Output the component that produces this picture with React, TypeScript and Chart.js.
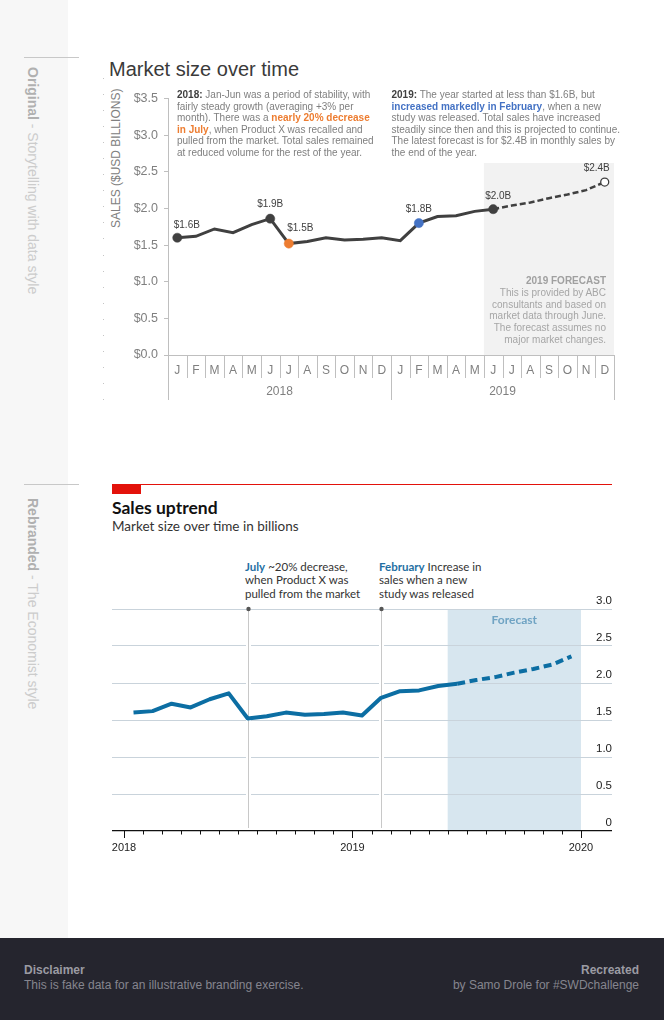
import React, { useEffect, useRef } from 'react';
import { Chart, registerables } from 'chart.js';

Chart.register(...registerables);

// ---------- DATA ----------
const MONTH_LABELS = ['J', 'F', 'M', 'A', 'M', 'J', 'J', 'A', 'S', 'O', 'N', 'D', 'J', 'F', 'M', 'A', 'M', 'J', 'J', 'A', 'S', 'O', 'N', 'D'];
const YEAR_LABELS = ['2018', '2019'];
// Jan 2018 .. Jun 2019 (actual, $ billions)
const ACTUAL_SALES = [1.60, 1.62, 1.72, 1.67, 1.78, 1.86, 1.52, 1.55, 1.60, 1.57, 1.58, 1.60, 1.56, 1.80, 1.89, 1.90, 1.96, 1.99];
// Jul 2019 .. Dec 2019 (forecast)
const FORECAST_SALES = [2.04, 2.08, 2.14, 2.19, 2.25, 2.36];
const TOP_Y_MIN = 0;
const TOP_Y_MAX = 3.5;
const TOP_Y_STEP = 0.5;
const BOTTOM_Y_MIN = 0;
const BOTTOM_Y_MAX = 3;
const BOTTOM_Y_STEP = 0.5;
const BOTTOM_YEAR_LABELS = ['2018', '2019', '2020'];
const BOTTOM_YEAR_TICKS = [0, 12, 24];
const ANNOTATED_MONTHS = [6, 13]; // July 2018, February 2019
const FORECAST_BAND_TOP = 2.62;

// ---------- STYLE ----------
const SANS = "'Liberation Sans', Arial, Helvetica, sans-serif";
const ECON = "Lato, 'Open Sans', sans-serif";
const DARK = '#404040';
const ORANGE = '#ED7D31';
const BLUE = '#4472C4';
const ECON_BLUE = '#0C6EA3';

const HIGHLIGHTS: Record<number, string> = { 0: DARK, 5: DARK, 6: ORANGE, 13: BLUE, 17: DARK };
const VALUE_LABELS = [
  { ds: 0, i: 0, dx: 9.5, dy: -12.5 },
  { ds: 0, i: 5, dx: 0, dy: -14.6 },
  { ds: 0, i: 6, dx: 11.5, dy: -15 },
  { ds: 0, i: 13, dx: 0, dy: -13.7 },
  { ds: 0, i: 17, dx: 5, dy: -13.4 },
  { ds: 1, i: 23, dx: -8, dy: -13.4 },
];

const topPlugin = {
  id: 'topDecor',
  beforeDraw(chart: any) {
    const { ctx, chartArea, scales } = chart;
    const x = scales.x, y = scales.y;
    const x0 = x.getPixelForValue(ACTUAL_SALES.length - 1.5);
    const x1 = x.getPixelForValue(MONTH_LABELS.length - 0.5);
    const yt = y.getPixelForValue(FORECAST_BAND_TOP);
    ctx.save();
    ctx.fillStyle = '#f2f2f2';
    ctx.fillRect(x0, yt, x1 - x0, chartArea.bottom - yt);
    ctx.restore();
  },
  afterDraw(chart: any) {
    const { ctx, scales } = chart;
    const x = scales.x;
    const top = x.top;
    ctx.save();
    ctx.strokeStyle = '#bfbfbf';
    ctx.lineWidth = 1;
    for (let i = 0; i < MONTH_LABELS.length - 1; i++) {
      const px = Math.round(x.getPixelForValue(i + 0.5)) + 0.5;
      ctx.beginPath();
      ctx.moveTo(px, top);
      ctx.lineTo(px, top + 23);
      ctx.stroke();
    }
    const perYear = MONTH_LABELS.length / YEAR_LABELS.length;
    for (let k = 0; k <= YEAR_LABELS.length; k++) {
      const px = Math.round(x.getPixelForValue(k * perYear - 0.5)) + 0.5;
      ctx.beginPath();
      ctx.moveTo(px, top);
      ctx.lineTo(px, top + 45);
      ctx.stroke();
    }
    ctx.fillStyle = '#7f7f7f';
    ctx.font = `12px ${SANS}`;
    ctx.textAlign = 'center';
    ctx.textBaseline = 'middle';
    YEAR_LABELS.forEach((lab, k) => {
      const px = x.getPixelForValue(k * perYear + perYear / 2 - 0.5);
      ctx.fillText(lab, px, top + 37);
    });
    ctx.fillStyle = DARK;
    ctx.font = `10px ${SANS}`;
    VALUE_LABELS.forEach(({ ds, i, dx, dy }) => {
      const pt = chart.getDatasetMeta(ds).data[i];
      const v = chart.data.datasets[ds].data[i] as number;
      if (!pt || v == null) return;
      ctx.fillText(`$${v.toFixed(1)}B`, pt.x + dx, pt.y + dy);
    });
    ctx.restore();
  },
};

function TopChart() {
  const ref = useRef<HTMLCanvasElement>(null);
  useEffect(() => {
    const last = ACTUAL_SALES.length - 1;
    const forecastData = [...Array(last).fill(null), ACTUAL_SALES[last], ...FORECAST_SALES];
    const chart = new Chart(ref.current as HTMLCanvasElement, {
      type: 'line',
      data: {
        labels: MONTH_LABELS,
        datasets: [
          {
            data: ACTUAL_SALES,
            borderColor: DARK,
            borderWidth: 3,
            tension: 0,
            order: 0,
            pointRadius: (c: any) => (HIGHLIGHTS[c.dataIndex] ? 4.6 : 0),
            pointBackgroundColor: (c: any) => HIGHLIGHTS[c.dataIndex] || DARK,
            pointBorderColor: (c: any) => HIGHLIGHTS[c.dataIndex] || DARK,
            pointBorderWidth: 0.5,
          },
          {
            data: forecastData,
            borderColor: DARK,
            borderWidth: 2.5,
            borderDash: [6, 3],
            tension: 0,
            order: 1,
            pointRadius: (c: any) => (c.dataIndex === MONTH_LABELS.length - 1 ? 4 : 0),
            pointBackgroundColor: '#ffffff',
            pointBorderColor: DARK,
            pointBorderWidth: 1.3,
          },
        ],
      },
      options: {
        responsive: false,
        animation: false,
        layout: { padding: { top: 12, right: 6, left: 0, bottom: 0 } },
        plugins: { legend: { display: false }, tooltip: { enabled: false } },
        scales: {
          x: {
            type: 'category',
            offset: true,
            grid: { display: false, drawTicks: false },
            border: { display: true, color: '#bfbfbf' },
            ticks: { color: '#7f7f7f', font: { family: SANS, size: 12 }, padding: 8, autoSkip: false, maxRotation: 0 },
            afterFit: (s: any) => { s.height = 60; s.paddingLeft = 0; s.paddingRight = 0; },
          },
          y: {
            min: TOP_Y_MIN,
            max: TOP_Y_MAX,
            ticks: {
              stepSize: TOP_Y_STEP,
              callback: (v: any) => '$' + Number(v).toFixed(1),
              color: '#7f7f7f',
              font: { family: SANS, size: 12.5 },
              padding: 6,
            },
            grid: { drawOnChartArea: false, tickLength: 4, color: '#bfbfbf' },
            border: { color: '#bfbfbf' },
            afterFit: (s: any) => { s.width = 38; },
          },
        },
      } as any,
      plugins: [topPlugin],
    });
    return () => chart.destroy();
  }, []);
  return <canvas ref={ref} width={490} height={330} style={{ position: 'absolute', left: 130, top: 85, width: 490, height: 330 }} />;
}

const bottomPlugin = {
  id: 'bottomDecor',
  beforeDraw(chart: any) {
    const { ctx, chartArea, scales } = chart;
    const x = scales.x;
    const x0 = x.getPixelForValue(ACTUAL_SALES.length - 1);
    const x1 = x.getPixelForValue(ACTUAL_SALES.length + FORECAST_SALES.length);
    ctx.save();
    ctx.fillStyle = '#d7e6ef';
    ctx.fillRect(x0, chartArea.top, x1 - x0, chartArea.bottom - chartArea.top);
    ctx.restore();
  },
  beforeDatasetsDraw(chart: any) {
    const { ctx, chartArea, scales } = chart;
    const x = scales.x;
    ctx.save();
    ANNOTATED_MONTHS.forEach((m) => {
      const px = Math.round(x.getPixelForValue(m + 0.5)) + 0.5;
      ctx.strokeStyle = '#ffffff';
      ctx.lineWidth = 5;
      ctx.beginPath();
      ctx.moveTo(px, chartArea.top + 3);
      ctx.lineTo(px, chartArea.bottom - 3);
      ctx.stroke();
      ctx.strokeStyle = '#c8c8c8';
      ctx.lineWidth = 1;
      ctx.beginPath();
      ctx.moveTo(px, chartArea.top);
      ctx.lineTo(px, chartArea.bottom - 3);
      ctx.stroke();
      ctx.fillStyle = '#555555';
      ctx.beginPath();
      ctx.arc(px, chartArea.top, 2.2, 0, Math.PI * 2);
      ctx.fill();
    });
    const x0 = x.getPixelForValue(ACTUAL_SALES.length - 1);
    const x1 = x.getPixelForValue(ACTUAL_SALES.length + FORECAST_SALES.length);
    ctx.fillStyle = '#6fa3c3';
    ctx.font = `bold 12px ${ECON}`;
    ctx.textAlign = 'center';
    ctx.textBaseline = 'middle';
    ctx.fillText('Forecast', (x0 + x1) / 2, chartArea.top + 11.5);
    ctx.restore();
  },
  afterDraw(chart: any) {
    const { ctx, scales } = chart;
    const x = scales.x;
    const top = x.top;
    ctx.save();
    ctx.strokeStyle = '#111111';
    ctx.lineWidth = 1;
    for (let i = 0; i <= ACTUAL_SALES.length + FORECAST_SALES.length; i++) {
      const px = Math.round(x.getPixelForValue(i)) + 0.5;
      const len = BOTTOM_YEAR_TICKS.includes(i) ? 7 : 3.5;
      ctx.beginPath();
      ctx.moveTo(px, top);
      ctx.lineTo(px, top + len);
      ctx.stroke();
    }
    ctx.restore();
  },
};

function BottomChart() {
  const ref = useRef<HTMLCanvasElement>(null);
  useEffect(() => {
    const all = [...ACTUAL_SALES, ...FORECAST_SALES];
    const last = ACTUAL_SALES.length - 1;
    const chart = new Chart(ref.current as HTMLCanvasElement, {
      type: 'line',
      data: {
        datasets: [
          {
            data: all.map((v, i) => ({ x: i + 0.5, y: v })),
            borderColor: ECON_BLUE,
            borderWidth: 4,
            tension: 0,
            pointRadius: 0,
            borderCapStyle: 'butt',
            borderJoinStyle: 'round',
            segment: {
              borderDash: (c: any) => (c.p0DataIndex >= last ? [8, 4.6] : undefined),
            },
          },
        ],
      },
      options: {
        responsive: false,
        animation: false,
        layout: { padding: { top: 19, right: 0, left: 0, bottom: 0 } },
        plugins: { legend: { display: false }, tooltip: { enabled: false } },
        scales: {
          x: {
            type: 'linear',
            min: -0.63,
            max: 25.63,
            afterBuildTicks: (s: any) => { s.ticks = BOTTOM_YEAR_TICKS.map((v) => ({ value: v })); },
            grid: { display: false, drawTicks: false },
            border: { display: true, color: '#111111', width: 1.3 },
            ticks: {
              callback: (v: any) => BOTTOM_YEAR_LABELS[BOTTOM_YEAR_TICKS.indexOf(Number(v))] ?? '',
              color: '#222222',
              font: { family: SANS, size: 11 },
              padding: 10,
              autoSkip: false,
              maxRotation: 0,
            },
            afterFit: (s: any) => { s.height = 31; s.paddingLeft = 0; s.paddingRight = 0; },
          },
          y: {
            position: 'right',
            min: BOTTOM_Y_MIN,
            max: BOTTOM_Y_MAX,
            ticks: {
              stepSize: BOTTOM_Y_STEP,
              mirror: true,
              padding: 0,
              labelOffset: -8,
              callback: (v: any) => (Number(v) === 0 ? '0' : Number(v).toFixed(1)),
              color: '#222222',
              font: { family: SANS, size: 11.5 },
            },
            grid: {
              color: (c: any) => (c.tick && c.tick.value === 0 ? 'rgba(0,0,0,0)' : '#c9d3db'),
              drawTicks: false,
              lineWidth: 1,
            },
            border: { display: false },
            afterFit: (s: any) => { s.width = 0; s.paddingTop = 0; s.paddingBottom = 0; },
          },
        },
      } as any,
      plugins: [bottomPlugin],
    });
    return () => chart.destroy();
  }, []);
  return <canvas ref={ref} width={500} height={272} style={{ position: 'absolute', left: 112, top: 590, width: 500, height: 272 }} />;
}

const abs = (s: React.CSSProperties): React.CSSProperties => ({ position: 'absolute', whiteSpace: 'nowrap', ...s });

export default function App() {
  useEffect(() => {
    document.body.style.margin = '0';
  }, []);
  return (
    <div style={{ position: 'relative', width: 664, height: 1020, overflow: 'hidden', background: '#ffffff', fontFamily: SANS }}>
      {/* sidebar */}
      <div style={abs({ left: 0, top: 0, width: 68, height: 938, background: '#f7f7f7' })} />
      <div style={abs({ left: 24, top: 57, width: 55, height: 1, background: '#c8c8c8' })} />
      <div style={abs({ left: 24, top: 484, width: 55, height: 1, background: '#c8c8c8' })} />
      <div style={abs({ left: 25.3, top: 67, writingMode: 'vertical-rl', fontSize: 14, lineHeight: '16px', color: '#cccccc' })}>
        <b style={{ color: '#b0b0b0' }}>Original</b> - Storytelling with data style
      </div>
      <div style={abs({ left: 25.3, top: 498, writingMode: 'vertical-rl', fontSize: 14, lineHeight: '16px', color: '#cccccc' })}>
        <b style={{ color: '#b0b0b0' }}>Rebranded</b> - The Economist style
      </div>

      {/* top chart */}
      <div style={abs({ left: 103, top: 78, width: 1, height: 323, background: 'repeating-linear-gradient(to bottom, #c4c4c4 0px, #c4c4c4 1px, transparent 1px, transparent 16.05px)' })} />
      <div style={abs({ left: 109, top: 56.8, fontSize: 20, lineHeight: '24px', color: '#3a3a3a' })}>Market size over time</div>
      <div style={abs({ left: 108.8, top: 228, fontSize: 12, lineHeight: '14px', color: '#808080', transform: 'rotate(-90deg)', transformOrigin: 'left top' })}>
        SALES ($USD BILLIONS)
      </div>
      <TopChart />
      <div style={abs({ left: 177, top: 89, fontSize: 10, lineHeight: '11.6px', color: '#7f7f7f' })}>
        <b style={{ color: DARK }}>2018:</b> Jan-Jun was a period of stability, with<br />
        fairly steady growth (averaging +3% per<br />
        month). There was a <b style={{ color: ORANGE }}>nearly 20% decrease</b><br />
        <b style={{ color: ORANGE }}>in July</b>, when Product X was recalled and<br />
        pulled from the market. Total sales remained<br />
        at reduced volume for the rest of the year.
      </div>
      <div style={abs({ left: 391.5, top: 89, fontSize: 10, lineHeight: '11.6px', color: '#7f7f7f' })}>
        <b style={{ color: DARK }}>2019:</b> The year started at less than $1.6B, but<br />
        <b style={{ color: BLUE }}>increased markedly in February</b>, when a new<br />
        study was released. Total sales have increased<br />
        steadily since then and this is projected to continue.<br />
        The latest forecast is for $2.4B in monthly sales by<br />
        the end of the year.
      </div>
      <div style={abs({ right: 58, top: 275, fontSize: 10, lineHeight: '11.75px', color: '#a6a6a6', textAlign: 'right' })}>
        <b style={{ color: '#a0a0a0' }}>2019 FORECAST</b><br />
        This is provided by ABC<br />
        consultants and based on<br />
        market data through June.<br />
        The forecast assumes no<br />
        major market changes.
      </div>

      {/* bottom chart */}
      <div style={abs({ left: 112, top: 484, width: 500, height: 1, background: '#E3120B' })} />
      <div style={abs({ left: 112, top: 484, width: 29, height: 10, background: '#E3120B' })} />
      <div style={abs({ left: 112, top: 497, fontFamily: ECON, fontWeight: 700, fontSize: 17.5, lineHeight: '21px', color: '#111111' })}>Sales uptrend</div>
      <div style={abs({ left: 112, top: 518.4, fontFamily: ECON, fontSize: 13.5, lineHeight: '16.2px', color: '#333333' })}>Market size over time in billions</div>
      <div style={abs({ left: 245, top: 559.5, fontFamily: ECON, fontSize: 11.5, lineHeight: '13.5px', color: '#333333' })}>
        <b style={{ color: '#1f6fa3' }}>July</b> ~20% decrease,<br />
        when Product X was<br />
        pulled from the market
      </div>
      <div style={abs({ left: 379, top: 559.5, fontFamily: ECON, fontSize: 11.5, lineHeight: '13.5px', color: '#333333' })}>
        <b style={{ color: '#1f6fa3' }}>February</b> Increase in<br />
        sales when a new<br />
        study was released
      </div>
      <BottomChart />

      {/* footer */}
      <div style={abs({ left: 0, top: 938, width: 664, height: 82, background: '#25252e' })} />
      <div style={abs({ left: 24, top: 963.2, fontSize: 12, lineHeight: '15px', color: '#85858f' })}>
        <b style={{ color: '#9b9ba3' }}>Disclaimer</b><br />
        This is fake data for an illustrative branding exercise.
      </div>
      <div style={abs({ right: 25, top: 963.2, fontSize: 12, lineHeight: '15px', color: '#85858f', textAlign: 'right' })}>
        <b style={{ color: '#9b9ba3' }}>Recreated</b><br />
        by Samo Drole for #SWDchallenge
      </div>
    </div>
  );
}
